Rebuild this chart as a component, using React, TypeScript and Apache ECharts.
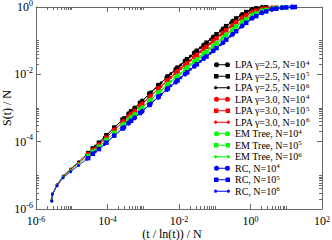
import React, { useEffect, useRef } from 'react';
import * as echarts from 'echarts';

// log10 of (t / ln(t)) / N sample positions for each system size
const xN4Log = [-3.54, -3.41, -3.24, -3.03, -2.81, -2.58, -2.34, -2.09, -1.83, -1.57, -1.31, -1.04, -0.77, -0.50, -0.23, 0.05, 0.32, 0.60, 0.88, 1.16];
const xN5Log = [-4.54, -4.41, -4.24, -4.03, -3.81, -3.58, -3.34, -3.09, -2.83, -2.57, -2.31, -2.04, -1.77, -1.50, -1.23, -0.95, -0.68, -0.40, -0.12, 0.16, 0.44, 0.72, 1.00, 1.24];
const xN6Log = [-5.56, -5.54, -5.41, -5.24, -5.03, -4.81, -4.58, -4.34, -4.09, -3.83, -3.57, -3.31, -3.04, -2.77, -2.50, -2.23, -1.95, -1.68, -1.40, -1.12, -0.84, -0.56, -0.28, 0.00, 0.29, 0.57, 0.86, 1.14];

// log10 of S(t) / N
const lpa25N4 = [-3.31, -3.17, -3.00, -2.79, -2.56, -2.33, -2.09, -1.85, -1.60, -1.36, -1.13, -0.89, -0.65, -0.42, -0.22, -0.07, -0.01];
const lpa25N5 = [-4.34, -4.20, -4.03, -3.81, -3.58, -3.35, -3.10, -2.85, -2.58, -2.32, -2.06, -1.80, -1.55, -1.30, -1.06, -0.81, -0.57, -0.34, -0.15, -0.04, -0.01];
const lpa25N6 = [-5.76, -5.55, -5.28, -5.02, -4.81, -4.60, -4.38, -4.13, -3.87, -3.60, -3.34, -3.07, -2.80, -2.52, -2.25, -1.98, -1.72, -1.46, -1.21, -0.96, -0.71, -0.47, -0.25, -0.08, -0.01];
const lpa30N4 = [-3.39, -3.25, -3.09, -2.88, -2.66, -2.43, -2.20, -1.96, -1.72, -1.48, -1.25, -1.01, -0.77, -0.54, -0.32, -0.15, -0.06, -0.02];
const lpa30N5 = [-4.38, -4.25, -4.09, -3.88, -3.65, -3.43, -3.18, -2.94, -2.68, -2.42, -2.17, -1.91, -1.67, -1.42, -1.18, -0.93, -0.69, -0.45, -0.25, -0.11, -0.05, -0.02];
const lpa30N6 = [-5.76, -5.55, -5.29, -5.04, -4.83, -4.63, -4.42, -4.18, -3.93, -3.67, -3.42, -3.15, -2.89, -2.62, -2.36, -2.09, -1.83, -1.58, -1.33, -1.08, -0.83, -0.59, -0.36, -0.16, -0.06, -0.02];
const emN4 = [-3.48, -3.35, -3.19, -2.99, -2.77, -2.55, -2.32, -2.09, -1.85, -1.62, -1.39, -1.16, -0.91, -0.67, -0.44, -0.24, -0.11, -0.05, -0.01];
const emN5 = [-4.43, -4.30, -4.15, -3.95, -3.74, -3.52, -3.28, -3.05, -2.80, -2.54, -2.29, -2.05, -1.80, -1.56, -1.33, -1.08, -0.83, -0.58, -0.36, -0.19, -0.09, -0.03, -0.01];
const emN6 = [-5.76, -5.55, -5.30, -5.05, -4.86, -4.67, -4.47, -4.24, -4.01, -3.76, -3.51, -3.25, -3.00, -2.73, -2.48, -2.21, -1.97, -1.71, -1.47, -1.23, -0.98, -0.72, -0.48, -0.26, -0.12, -0.05, -0.01];
const rcN4 = [-3.58, -3.45, -3.29, -3.10, -2.89, -2.68, -2.45, -2.23, -1.99, -1.76, -1.53, -1.30, -1.06, -0.81, -0.56, -0.33, -0.17, -0.07, -0.02, 0];
const rcN5 = [-4.49, -4.36, -4.22, -4.03, -3.82, -3.61, -3.38, -3.15, -2.91, -2.66, -2.42, -2.18, -1.94, -1.70, -1.47, -1.22, -0.97, -0.72, -0.47, -0.27, -0.13, -0.05, -0.01, 0];
const rcN6 = [-5.76, -5.56, -5.31, -5.07, -4.89, -4.71, -4.52, -4.30, -4.08, -3.84, -3.60, -3.35, -3.11, -2.85, -2.60, -2.34, -2.10, -1.85, -1.61, -1.37, -1.12, -0.86, -0.60, -0.36, -0.18, -0.08, -0.02, 0];

const seriesNames = [
  'LPA γ=2.5, N=10^4', 'LPA γ=2.5, N=10^5', 'LPA γ=2.5, N=10^6',
  'LPA γ=3.0, N=10^4', 'LPA γ=3.0, N=10^5', 'LPA γ=3.0, N=10^6',
  'EM Tree, N=10^4', 'EM Tree, N=10^5', 'EM Tree, N=10^6',
  'RC, N=10^4', 'RC, N=10^5', 'RC, N=10^6',
];
const seriesY = [lpa25N4, lpa25N5, lpa25N6, lpa30N4, lpa30N5, lpa30N6, emN4, emN5, emN6, rcN4, rcN5, rcN6];
const seriesX = [xN4Log, xN5Log, xN6Log, xN4Log, xN5Log, xN6Log, xN4Log, xN5Log, xN6Log, xN4Log, xN5Log, xN6Log];

const xMajorTicks = [1e-6, 1e-4, 1e-2, 1, 1e2];
const yMajorTicks = [1e-6, 1e-4, 1e-2, 1];
const xMinorDecades = [-6, -4, -2, 0];
const yMinorDecades = [-6, -4, -2];
const minorMultipliers = [2, 3, 4, 5, 6, 7, 8, 9, 10];

const colors = ['#000000', '#ff0000', '#00ff00', '#0000ff'];
const FONT = "'Liberation Serif', 'Times New Roman', serif";
const AXIS_COLOR = '#6a6a6a';

const ICON_CIRCLE = 'path://M0,2.5A2.5,2.5,0,1,1,5,2.5A2.5,2.5,0,1,1,0,2.5ZM11,2.5A2.5,2.5,0,1,1,16,2.5A2.5,2.5,0,1,1,11,2.5ZM2.5,2L13.5,2L13.5,3L2.5,3Z';
const ICON_SQUARE = 'path://M0,0.3L4.4,0.3L4.4,4.7L0,4.7ZM11.6,0.3L16,0.3L16,4.7L11.6,4.7ZM2,2L14,2L14,3L2,3Z';
const ICON_DOT = 'path://M0,2.5A1.6,1.6,0,1,1,3.2,2.5A1.6,1.6,0,1,1,0,2.5ZM12.8,2.5A1.6,1.6,0,1,1,16,2.5A1.6,1.6,0,1,1,12.8,2.5ZM1.6,2L14.4,2L14.4,3L1.6,3Z';

function minorTicks(decades: number[]) {
  const out: number[] = [];
  decades.forEach((d) => minorMultipliers.forEach((m) => out.push(m * Math.pow(10, d))));
  return out;
}

function expLabel(v: number) {
  const e = Math.round(Math.log10(v));
  return `{b|10}{s|${e}}`;
}

export default function App() {
  const ref = useRef<HTMLDivElement>(null);
  useEffect(() => {
    if (!ref.current) return;
    const chart = echarts.init(ref.current, undefined, { renderer: 'svg' });
    const xMinor = minorTicks(xMinorDecades);
    const yMinor = minorTicks(yMinorDecades);

    const markerOf = (i: number) => (i % 3 === 1 ? 'rect' : 'circle');
    const sizeOf = (i: number) => (i % 3 === 0 ? 5 : i % 3 === 1 ? 4.5 : 3);
    const iconOf = (i: number) => (i % 3 === 0 ? ICON_CIRCLE : i % 3 === 1 ? ICON_SQUARE : ICON_DOT);

    const series = seriesNames.map((name, i) => {
      const xs = seriesX[i];
      const ys = seriesY[i];
      const color = colors[Math.floor(i / 3)];
      return {
        type: 'line',
        name,
        xAxisIndex: 0,
        yAxisIndex: 0,
        data: ys.map((ly, k) => [Math.pow(10, xs[k]), Math.pow(10, ly)]),
        symbol: markerOf(i),
        symbolSize: sizeOf(i),
        showSymbol: true,
        showAllSymbol: true,
        lineStyle: { color, width: 0.8 },
        itemStyle: { color, borderWidth: 0 },
        emphasis: { disabled: true },
      };
    });

    const xLabelRich = {
      b: { fontFamily: FONT, fontSize: 12, color: '#000', lineHeight: 12 },
      s: { fontFamily: FONT, fontSize: 8, color: '#000', lineHeight: 4, verticalAlign: 'top' },
    };
    const yLabelRich = {
      b: { fontFamily: FONT, fontSize: 12, color: '#000', lineHeight: 16 },
      s: { fontFamily: FONT, fontSize: 8, color: '#000', lineHeight: 8, verticalAlign: 'top' },
    };
    const axisLine = { show: true, lineStyle: { color: AXIS_COLOR, width: 1 } };
    const baseX = { type: 'log', logBase: 10, min: 1e-6, max: 1e2, splitLine: { show: false }, gridIndex: 0 };
    const baseY = { type: 'log', logBase: 10, min: 1e-6, max: 1, splitLine: { show: false }, gridIndex: 0 };
    const majorTick = (vals: number[]) => ({ show: true, inside: true, length: 5, customValues: vals, lineStyle: { color: AXIS_COLOR, width: 1 } });
    const minorTick = (vals: number[]) => ({ show: true, inside: true, length: 3, customValues: vals, lineStyle: { color: AXIS_COLOR, width: 1 } });

    chart.setOption({
      animation: false,
      backgroundColor: '#ffffff',
      grid: { left: 36, right: 10, top: 7, bottom: 31, containLabel: false, outerBoundsMode: 'none' },
      legend: {
        show: true,
        orient: 'vertical',
        left: 209,
        top: 54,
        itemWidth: 16,
        itemHeight: 5,
        itemGap: 0.1,
        selectedMode: false,
        data: seriesNames.map((name, i) => ({ name, icon: iconOf(i) })),
        formatter: (name: string) => name.replace(/\^(\d)/, '{s|$1}'),
        textStyle: {
          fontFamily: FONT,
          fontSize: 10,
          color: '#000',
          lineHeight: 11.4,
          rich: {
            s: { fontFamily: FONT, fontSize: 7, color: '#000', lineHeight: 7, verticalAlign: 'top' },
          },
        },
      },
      xAxis: [
        {
          ...baseX,
          position: 'bottom',
          axisLine,
          axisTick: majorTick(xMajorTicks),
          axisLabel: { show: true, customValues: xMajorTicks, formatter: expLabel, rich: xLabelRich, margin: 6 },
          name: '(t / ln(t)) / N',
          nameLocation: 'middle',
          nameGap: 19,
          nameMoveOverlap: false,
          nameTextStyle: { fontFamily: FONT, fontSize: 12, color: '#000', padding: [0, 14, 0, 0] },
        },
        { ...baseX, position: 'bottom', axisLine: { show: false }, axisTick: minorTick(xMinor), axisLabel: { show: false } },
        { ...baseX, position: 'top', axisLine, axisTick: majorTick(xMajorTicks), axisLabel: { show: false } },
        { ...baseX, position: 'top', axisLine: { show: false }, axisTick: minorTick(xMinor), axisLabel: { show: false } },
      ],
      yAxis: [
        {
          ...baseY,
          position: 'left',
          axisLine,
          axisTick: majorTick(yMajorTicks),
          axisLabel: { show: true, customValues: yMajorTicks, formatter: expLabel, rich: yLabelRich, margin: 3 },
          name: 'S(t) / N',
          nameLocation: 'middle',
          nameGap: 23,
          nameMoveOverlap: false,
          nameTextStyle: { fontFamily: FONT, fontSize: 12, color: '#000' },
        },
        { ...baseY, position: 'left', axisLine: { show: false }, axisTick: minorTick(yMinor), axisLabel: { show: false } },
        { ...baseY, position: 'right', axisLine, axisTick: majorTick(yMajorTicks), axisLabel: { show: false } },
        { ...baseY, position: 'right', axisLine: { show: false }, axisTick: minorTick(yMinor), axisLabel: { show: false } },
      ],
      series,
    });
    return () => chart.dispose();
  }, []);
  return <div ref={ref} style={{ position: 'fixed', left: 0, top: 0, width: 332, height: 240 }} />;
}
